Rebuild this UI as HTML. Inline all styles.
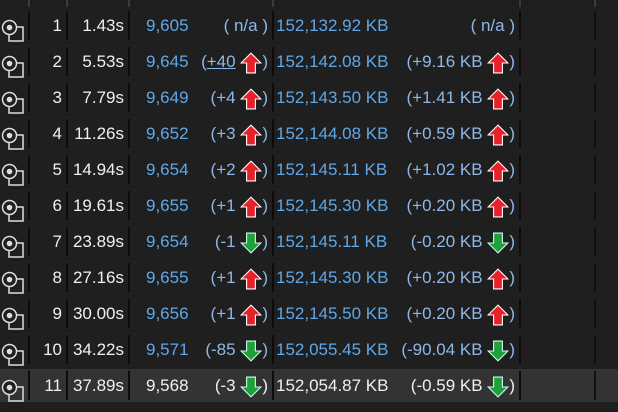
<!DOCTYPE html>
<html><head><meta charset="utf-8"><style>
body{margin:0;width:618px;height:412px;background:#1e1e1e;overflow:hidden;font-family:"Liberation Sans",sans-serif;font-size:17px;position:relative}
.r{position:absolute;left:0;width:618px;height:33px;background:#1f1f1f}
.c{position:absolute;top:0;height:33px;line-height:33px;white-space:nowrap}
.sep{position:absolute;width:2px;background:#0c0c0c}
.w{color:#f0f0f0}.b{color:#5fa8e8}.d{color:#8fb8e8}
svg{vertical-align:middle}
</style></head><body>
<script>
const ids=[1,2,3,4,5,6,7,8,9,10,11];
const times=["1.43s","5.53s","7.79s","11.26s","14.94s","19.61s","23.89s","27.16s","30.00s","34.22s","37.89s"];
const counts=["9,605","9,645","9,649","9,652","9,654","9,655","9,654","9,655","9,656","9,571","9,568"];
const countDiffs=["n/a","+40","+4","+3","+2","+1","-1","+1","+1","-85","-3"];
const sizes=["152,132.92 KB","152,142.08 KB","152,143.50 KB","152,144.08 KB","152,145.11 KB","152,145.30 KB","152,145.11 KB","152,145.30 KB","152,145.50 KB","152,055.45 KB","152,054.87 KB"];
const sizeDiffs=["n/a","+9.16 KB","+1.41 KB","+0.59 KB","+1.02 KB","+0.20 KB","-0.20 KB","+0.20 KB","+0.20 KB","-90.04 KB","-0.59 KB"];
function arrow(v){if(v==="n/a")return "";
 return v[0]==="+"?'<svg width="22" height="22" viewBox="0 0 20 20"><polygon points="10,1 19,10 14,10 14,19 6,19 6,10 1,10" fill="#e8202a" stroke="#fff" stroke-width="1"/></svg>'
 :'<svg width="22" height="22" viewBox="0 0 20 20"><polygon points="10,19 19,10 14,10 14,1 6,1 6,10 1,10" fill="#1fa03a" stroke="#cfe" stroke-width="1"/></svg>';}
function cell(r,cls,left,right,html,name,align){const d=document.createElement('div');d.className='c '+cls;d.style.left=left+'px';d.style.width=(right-left)+'px';d.style.textAlign=align||'right';d.innerHTML=html;


r.appendChild(d);return d;}
ids.forEach((id,i)=>{
 const r=document.createElement('div');r.className='r';r.style.top=(9+i*36)+'px';
 const last=i===ids.length-1; if(last)r.style.background='#333';
 
 
 const ic=document.createElement('div');ic.className='c';ic.style.left='1px';ic.style.top='4px';
 ic.innerHTML='<svg width="24" height="24"><rect x="8" y="8" width="14" height="14" fill="none" stroke="#ddd" stroke-width="1.5"/><circle cx="8.5" cy="8.5" r="7" fill="#1f1f1f" stroke="#ddd" stroke-width="1.5"/><circle cx="8.5" cy="8.5" r="2.8" fill="#ddd"/></svg>';
 
 
 r.appendChild(ic);
 cell(r,'w',30,62,id,'snapshot-id');
 cell(r,'w',70,124,times[i],'snapshot-time');
 cell(r,last?'w':'b',146,200,counts[i],'object-count','left');
 const cd=countDiffs[i];
 cell(r,last?'w':'d',190,268,cd==="n/a"?'( n/a )':'('+(i===1?'<u>'+cd+'</u>':cd)+' '+arrow(cd)+')','object-count-diff');
 cell(r,last?'w':'b',276,395,sizes[i],'heap-size','left');
 const sd=sizeDiffs[i];
 cell(r,last?'w':'d',390,515,sd==="n/a"?'( n/a )':'('+sd+' '+arrow(sd)+')','heap-size-diff');
 [28,66,128,272,519,594].forEach(x=>{const s=document.createElement('div');s.className='sep';s.style.left=x+'px';s.style.top='2px';s.style.height='29px';
 if(x===594){s.style.background='#111';}
 
 
 r.appendChild(s);});
 document.body.appendChild(r);
});
[28,66,128,272,519,594].forEach(x=>{const s=document.createElement('div');s.className='sep';s.style.left=x+'px';s.style.top='0';s.style.height='7px';s.style.background='#3a3a3a';


document.body.appendChild(s);});
</script>
</body></html>
